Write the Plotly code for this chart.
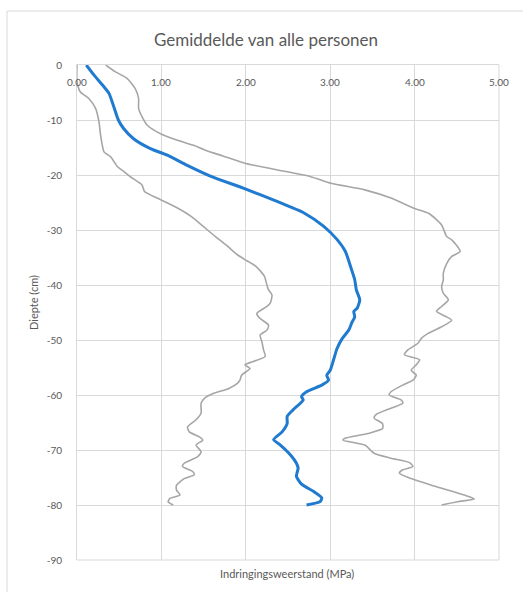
import plotly.graph_objects as go

# ---- data ----
mean_depth = [0, -1.8, -3.6, -5.2, -7.3, -10.0, -11.5, -13.4, -15.2, -16.4, -18.2, -20.2, -22.4,
              -24.8, -26.9, -29.3, -31.7, -33.9, -36.6, -39.0, -40.9, -42.7, -44.2, -44.8, -45.8,
              -46.7, -48.2, -49.8, -51.6, -53.6, -55.5, -56.4, -57.3, -58.2, -59.4, -60.3, -60.9,
              -62.7, -63.9, -65.2, -66.7, -68.1, -69.1, -70.9, -72.4, -73.3, -74.8, -76.2, -77.5,
              -78.7, -79.4, -80.0]
mean_val = [0.11, 0.20, 0.30, 0.38, 0.43, 0.49, 0.55, 0.67, 0.87, 1.07, 1.30, 1.58, 1.97,
            2.37, 2.69, 2.92, 3.08, 3.18, 3.24, 3.29, 3.31, 3.35, 3.32, 3.28, 3.29,
            3.26, 3.22, 3.14, 3.08, 3.04, 3.00, 2.96, 2.98, 2.90, 2.72, 2.66, 2.68,
            2.56, 2.49, 2.49, 2.43, 2.33, 2.41, 2.53, 2.60, 2.62, 2.60, 2.66, 2.80,
            2.90, 2.88, 2.72]

max_depth = [0, -1.2, -2.4, -4.3, -6.1, -7.9, -9.4, -10.9, -12.5, -13.7, -14.6, -15.5, -16.5,
             -17.9, -19.0, -20.3, -21.5, -22.7, -24.2, -26.1, -27.0, -29.1, -31.2, -31.8, -33.9,
             -34.8, -36.1, -37.9, -39.1, -40.3, -41.5, -42.7, -43.9, -44.8, -45.8, -46.4, -47.6,
             -48.8, -49.7, -50.6, -51.8, -52.7, -53.6, -54.5, -55.5, -56.4, -57.3, -58.2, -59.4,
             -60.0, -60.9, -61.5, -62.4, -63.6, -64.2, -65.2, -66.1, -67.0, -67.9, -68.2, -69.1,
             -70.6, -71.5, -72.3, -73.0, -73.6, -74.2, -75.2, -76.4, -77.3, -78.2, -78.9, -79.4,
             -80.0]
max_val = [0.34, 0.45, 0.59, 0.69, 0.73, 0.73, 0.77, 0.83, 0.99, 1.19, 1.38, 1.52, 1.72,
           2.00, 2.35, 2.77, 3.01, 3.41, 3.72, 4.00, 4.17, 4.32, 4.38, 4.44, 4.54,
           4.44, 4.38, 4.34, 4.34, 4.32, 4.34, 4.40, 4.32, 4.26, 4.38, 4.44, 4.32,
           4.16, 4.08, 4.04, 3.92, 3.88, 4.06, 4.02, 3.96, 4.02, 3.98, 3.86, 3.72,
           3.70, 3.84, 3.86, 3.72, 3.54, 3.52, 3.62, 3.62, 3.45, 3.17, 3.15, 3.41,
           3.52, 3.72, 3.94, 3.98, 3.86, 3.82, 3.96, 4.20, 4.40, 4.59, 4.71, 4.51,
           4.32]

min_depth = [0, -3.0, -4.9, -6.1, -7.9, -10.3, -12.8, -14.6, -15.8, -16.7, -18.5, -19.3, -20.3,
             -21.8, -23.0, -24.4, -25.9, -27.6, -29.4, -31.2, -32.9, -34.5, -35.3, -36.6, -38.4,
             -40.0, -40.9, -41.8, -43.3, -43.9, -45.2, -46.1, -47.3, -48.2, -49.1, -50.3, -51.8,
             -53.0, -53.9, -54.5, -55.2, -56.4, -57.3, -57.9, -58.8, -59.7, -60.6, -61.5, -63.3,
             -64.5, -65.8, -66.7, -67.6, -68.2, -69.1, -70.3, -71.2, -72.4, -73.0, -73.9, -74.5,
             -75.2, -76.4, -77.3, -78.2, -78.8, -79.4, -80.0]
min_val = [0.00, 0.00, 0.04, 0.14, 0.22, 0.26, 0.28, 0.30, 0.32, 0.40, 0.48, 0.55, 0.63,
           0.77, 0.80, 0.98, 1.18, 1.36, 1.50, 1.64, 1.78, 1.90, 1.98, 2.12, 2.22,
           2.25, 2.27, 2.31, 2.29, 2.25, 2.13, 2.17, 2.27, 2.25, 2.17, 2.19, 2.21,
           2.23, 2.09, 1.99, 2.05, 1.95, 1.93, 1.90, 1.80, 1.62, 1.51, 1.47, 1.47,
           1.41, 1.31, 1.33, 1.45, 1.49, 1.41, 1.47, 1.43, 1.27, 1.25, 1.37, 1.39,
           1.27, 1.18, 1.18, 1.22, 1.10, 1.08, 1.14]

x_ticks = [0, 1, 2, 3, 4, 5]
x_ticktext = ["0.00", "1.00", "2.00", "3.00", "4.00", "5.00"]
y_ticks = [0, -10, -20, -30, -40, -50, -60, -70, -80, -90]
y_ticktext = ["0", "-10", "-20", "-30", "-40", "-50", "-60", "-70", "-80", "-90"]

title_text = "Gemiddelde van alle personen"
x_title = "Indringingsweerstand (MPa)"
y_title = "Diepte (cm)"

FONT = "Lato"
TXT = "#595959"
GRID = "#d9d9d9"

fig = go.Figure()
fig.add_trace(go.Scatter(x=min_val, y=min_depth, mode="lines",
                         line=dict(color="#a6a6a6", width=1.6, shape="spline", smoothing=0.6),
                         showlegend=False))
fig.add_trace(go.Scatter(x=max_val, y=max_depth, mode="lines",
                         line=dict(color="#a6a6a6", width=1.6, shape="spline", smoothing=0.6),
                         showlegend=False))
fig.add_trace(go.Scatter(x=mean_val, y=mean_depth, mode="lines",
                         line=dict(color="#1f7ad0", width=3, shape="spline", smoothing=0.6),
                         showlegend=False))

W, H = 523, 592
L, R, T, B = 77, 24, 65, 32
pw, ph = W - L - R, H - T - B

def px(xp):
    return (xp - L) / pw

def py(yp):
    return (H - B - yp) / ph

annotations = [
    dict(text=x_title, xref="paper", yref="paper", x=px(287), y=py(573),
         xanchor="center", yanchor="middle", showarrow=False,
         font=dict(size=11, color=TXT, family=FONT)),
    dict(text=y_title, xref="paper", yref="paper", x=px(33), y=py(303),
         xanchor="center", yanchor="middle", showarrow=False, textangle=-90,
         font=dict(size=11, color=TXT, family=FONT)),
]
# x tick labels sit just below the top axis line (Excel "next to axis" style)
for v, t in zip(x_ticks, x_ticktext):
    annotations.append(dict(text=t, xref="x", yref="paper", x=v, y=py(82),
                            xanchor="center", yanchor="middle", showarrow=False,
                            font=dict(size=10, color=TXT, family=FONT)))

fig.update_layout(
    width=W, height=H,
    margin=dict(l=L, r=R, t=T, b=B),
    paper_bgcolor="white", plot_bgcolor="white",
    font=dict(family=FONT, color=TXT),
    title=dict(text=title_text, x=266 / W, xref="container", xanchor="center",
               y=1 - 40 / H, yref="container", yanchor="middle",
               font=dict(size=17, color=TXT, family=FONT)),
    xaxis=dict(range=[0, 5], side="top", tickvals=x_ticks, showticklabels=False,
               showgrid=True, gridcolor=GRID, gridwidth=1,
               showline=True, linecolor=GRID, linewidth=1, zeroline=False, ticks=""),
    yaxis=dict(range=[-90, 0], tickvals=y_ticks, ticktext=y_ticktext,
               showgrid=True, gridcolor=GRID, gridwidth=1, zeroline=False,
               showline=True, linecolor=GRID, linewidth=1,
               ticks="outside", ticklen=12, tickcolor="rgba(0,0,0,0)",
               tickfont=dict(size=10, color=TXT, family=FONT)),
    annotations=annotations,
    shapes=[
        dict(type="rect", xref="paper", yref="paper", x0=px(7), x1=px(530),
             y0=py(600), y1=py(11), line=dict(color="#d9d9d9", width=1),
             fillcolor="rgba(0,0,0,0)", layer="below"),
        dict(type="line", xref="paper", yref="paper", x0=1, x1=1, y0=0, y1=1,
             line=dict(color=GRID, width=1), layer="below"),
        dict(type="line", xref="paper", yref="paper", x0=0, x1=1, y0=0, y1=0,
             line=dict(color=GRID, width=1), layer="below"),
    ],
)

fig.write_html("out.html")
